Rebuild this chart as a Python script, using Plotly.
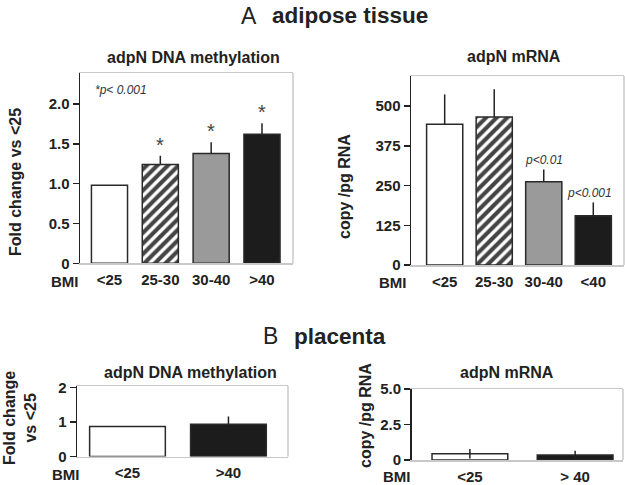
import plotly.graph_objects as go

# ---------------- data ----------------
cats_a_meth = ["<25", "25-30", "30-40", ">40"]
meth_a = [0.98, 1.24, 1.38, 1.62]
meth_a_err = [0.0, 0.11, 0.14, 0.14]

cats_a_mrna = ["<25", "25-30", "30-40", "<40"]
mrna_a = [443, 466, 262, 155]
mrna_a_err = [94, 87, 39, 42]

cats_b_meth = ["<25", ">40"]
meth_b = [0.87, 0.93]
meth_b_err = [0.0, 0.23]

cats_b_mrna = ["<25", "> 40"]
mrna_b = [0.44, 0.35]
mrna_b_err = [0.33, 0.30]

# ---------------- style ----------------
W, H = 625, 485
FONT = "Liberation Sans, Arial, sans-serif"
TXT = "#222222"
EDGE = "#2a2a2a"
FRAME = "#c8c8c8"

def px(x):
    return x / W

def py(y):
    return 1 - y / H

four_fill = ["white", "white", "#9a9a9a", "#1c1c1c"]
four_shape = ["", "/", "", ""]
two_fill = ["white", "#1c1c1c"]
two_shape = ["", ""]

fig = go.Figure()

def add_bars(xa, ya, vals, errs, fills, shapes, width, symmetric=False):
    n = len(vals)
    fig.add_trace(go.Bar(
        x=list(range(n)), y=vals, width=width,
        xaxis=xa, yaxis=ya,
        marker=dict(color=fills,
                    line=dict(color=EDGE, width=1.5),
                    pattern=dict(shape=shapes, fgcolor="#000000", bgcolor="white",
                                 fgopacity=1, size=7.5, solidity=0.55, fillmode="overlay")),
        error_y=dict(type="data", array=errs,
                     arrayminus=(errs if symmetric else [0] * n),
                     symmetric=False, color="#222222", thickness=1.5, width=0,
                     visible=True),
        showlegend=False, hoverinfo="skip",
    ))

add_bars("x", "y", meth_a, meth_a_err, four_fill, four_shape, 0.71)
add_bars("x2", "y2", mrna_a, mrna_a_err, four_fill, four_shape, 0.73)
add_bars("x3", "y3", meth_b, meth_b_err, two_fill, two_shape, 0.75)
add_bars("x4", "y4", mrna_b, mrna_b_err, two_fill, two_shape, 0.72, symmetric=True)

# panel geometry in pixels: (left, right, top, bottom)
geo = {
    1: (80, 293, 73, 263.3),
    2: (411, 624, 76, 265),
    3: (77, 288, 386, 456.5),
    4: (411.5, 623, 389, 460),
}
xranges = {1: [-0.58, 3.61], 2: [-0.68, 3.62], 3: [-0.5, 1.59], 4: [-0.555, 1.455]}
yranges = {1: [0, 2.39], 2: [0, 595], 3: [0, 2.04], 4: [0, 5.0]}
yticks = {
    1: ([0, 0.5, 1, 1.5, 2], ["0", "0.5", "1.0", "1.5", "2.0"]),
    2: ([0, 125, 250, 375, 500], ["0", "125", "250", "375", "500"]),
    3: ([0, 1, 2], ["0", "1", "2"]),
    4: ([0, 2.5, 5.0], ["0", "2.5", "5.0"]),
}
xcats = {1: cats_a_meth, 2: cats_a_mrna, 3: cats_b_meth, 4: cats_b_mrna}

layout = dict(
    template="none",
    width=W, height=H, margin=dict(l=0, r=0, t=0, b=0, pad=0, autoexpand=False),
    paper_bgcolor="white", plot_bgcolor="white",
    font=dict(family=FONT, color=TXT),
    bargap=0,
)
for i in range(1, 5):
    l, r, t, b = geo[i]
    sfx = "" if i == 1 else str(i)
    layout["xaxis" + sfx] = dict(
        domain=[px(l), px(r)], range=xranges[i], anchor="y" + sfx,
        tickvals=list(range(len(xcats[i]))), ticktext=xcats[i],
        tickfont=dict(size=15, weight="bold", color=TXT, family=FONT),
        showline=True, linecolor=FRAME, linewidth=1.5, mirror=True,
        ticks="", showgrid=False, zeroline=False, fixedrange=True,
        automargin=False, ticklabelstandoff=2,
    )
    layout["yaxis" + sfx] = dict(
        domain=[py(b), py(t)], range=yranges[i], anchor="x" + sfx,
        tickvals=yticks[i][0], ticktext=yticks[i][1],
        tickfont=dict(size=15, weight="bold", color=TXT, family=FONT),
        showline=True, linecolor="#222222", linewidth=1.5,
        ticks="outside", ticklen=6, tickwidth=1.5, tickcolor="#222222",
        showgrid=False, zeroline=False, fixedrange=True, automargin=False,
    )

shapes = []
for i in range(1, 5):
    l, r, t, b = geo[i]
    shapes.append(dict(type="line", xref="paper", yref="paper",
                       x0=px(r), x1=px(r), y0=py(b), y1=py(t),
                       line=dict(color=FRAME, width=1.5)))
layout["shapes"] = shapes

ann = []

def txt(x, y, s, size=15, bold=True, italic=False, angle=0, xanchor="center", color=TXT):
    t = s
    if bold:
        t = "<b>" + t + "</b>"
    if italic:
        t = "<i>" + t + "</i>"
    ann.append(dict(x=px(x), y=py(y), xref="paper", yref="paper", text=t,
                    showarrow=False, textangle=angle, xanchor=xanchor, yanchor="middle",
                    font=dict(size=size, color=color, family=FONT)))

# section titles
txt(249, 16, "A", size=23, bold=False)
txt(270, 16, "adipose tissue", size=22.5, xanchor="left")
txt(270, 336, "B", size=23, bold=False)
txt(292, 336, "placenta", size=22.5, xanchor="left")

# subplot titles
txt(193, 57, "adpN DNA methylation", size=16)
txt(514, 56, "adpN mRNA", size=16)
txt(190, 372, "adpN DNA methylation", size=16)
txt(507, 372, "adpN mRNA", size=16)

# axis titles
txt(15, 182, "Fold change vs <25", size=16, angle=-90)
txt(345, 187, "copy /pg RNA", size=16, angle=-90)
txt(20, 418, "Fold change<br>vs <25", size=16, angle=-90)
txt(365, 416, "copy /pg RNA", size=16, angle=-90)

# BMI labels
txt(65, 281, "BMI", size=15)
txt(393, 282, "BMI", size=15)
txt(66, 474, "BMI", size=15)
txt(397, 476, "BMI", size=15)

# significance note
txt(93, 90, "*p< 0.001", size=12, bold=False, italic=True, xanchor="left", color="#333333")

layout["annotations"] = ann
fig.update_layout(**layout)

# stars above error bars (data coordinates)
for k in range(1, 4):
    fig.add_annotation(x=k, y=meth_a[k] + meth_a_err[k], xref="x", yref="y",
                       text="*", showarrow=False, yanchor="bottom", yshift=-2,
                       font=dict(size=20, color="#444444", family=FONT))

fig.add_annotation(x=2, y=mrna_a[2] + mrna_a_err[2], xref="x2", yref="y2",
                   text="<i>p<0.01</i>", showarrow=False, yanchor="bottom", yshift=0,
                   font=dict(size=12, color="#333333", family=FONT))
fig.add_annotation(x=3, y=mrna_a[3] + mrna_a_err[3], xref="x2", yref="y2",
                   text="<i>p<0.001</i>", showarrow=False, yanchor="bottom", yshift=0,
                   xshift=-4, font=dict(size=12, color="#333333", family=FONT))

fig.write_html("out.html",
               config={"displayModeBar": False, "staticPlot": True},
               post_script="document.body.style.margin='0';document.body.style.overflow='hidden';")
